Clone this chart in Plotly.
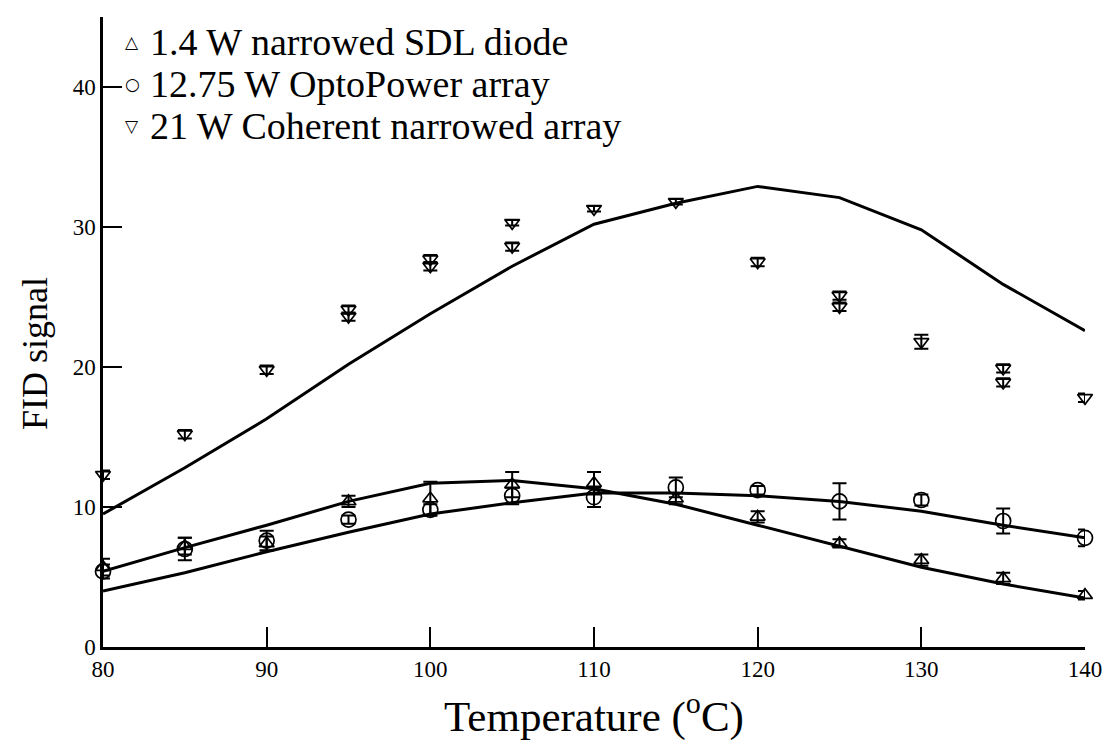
import plotly.graph_objects as go

# ---- data ----
temps = [80, 85, 90, 95, 100, 105, 110, 115, 120, 125, 130, 135, 140]

# 1.4 W narrowed SDL diode (up triangles)
sdl_y = [5.7, 7.2, 7.4, 10.4, 10.6, 11.6, 11.7, 10.6, 9.3, 7.4, 6.2, 4.9, 3.7]
sdl_err = [0.6, 0.6, 0.5, 0.4, 1.2, 0.9, 0.8, 0.4, 0.4, 0.3, 0.4, 0.4, 0.3]
sdl_fit = [5.4, 7.1, 8.7, 10.4, 11.7, 11.9, 11.3, 10.2, 8.7, 7.2, 5.7, 4.5, 3.5]

# 12.75 W OptoPower array (circles)
opto_y = [5.4, 7.0, 7.6, 9.1, 9.8, 10.8, 10.7, 11.4, 11.2, 10.4, 10.5, 9.0, 7.8]
opto_err = [0.5, 0.8, 0.7, 0.3, 0.4, 0.6, 0.7, 0.7, 0.3, 1.3, 0.4, 0.9, 0.6]
opto_fit = [4.0, 5.3, 6.8, 8.2, 9.5, 10.3, 11.0, 11.0, 10.8, 10.4, 9.7, 8.7, 7.8]

# 21 W Coherent narrowed array (down triangles), repeated runs at some temperatures
coh_t = [80, 85, 90, 95, 95, 100, 100, 105, 105, 110, 115, 120, 125, 125, 130, 135, 135, 140]
coh_y = [12.3, 15.2, 19.8, 24.1, 23.6, 27.7, 27.2, 30.3, 28.6, 31.3, 31.8, 27.5, 25.1, 24.3, 21.8, 19.9, 18.9, 17.8]
coh_err = [0.3, 0.3, 0.3, 0.3, 0.3, 0.3, 0.3, 0.2, 0.3, 0.2, 0.2, 0.3, 0.3, 0.3, 0.5, 0.3, 0.3, 0.3]
coh_fit = [9.5, 12.8, 16.3, 20.2, 23.8, 27.2, 30.2, 31.7, 32.9, 32.1, 29.8, 25.9, 22.6]

labels = ["1.4 W narrowed SDL diode", "12.75 W OptoPower array", "21 W Coherent narrowed array"]
legend_glyphs = ["\u25B3", "\u25CB", "\u25BD"]
symbols = ["triangle-up-open", "circle-open", "triangle-down-open"]

FONT = "Liberation Serif"
BLACK = "#000000"

W, H = 1103, 754
ML, MR, MT, MB = 103, 18, 17, 107
PW, PH = W - ML - MR, H - MT - MB


def px_x(px):
    return (px - ML) / PW


def px_y(py):
    return (H - MB - py) / PH


fig = go.Figure()

# fitted curves
for fit in (coh_fit, sdl_fit, opto_fit):
    fig.add_trace(go.Scatter(x=temps, y=fit, mode="lines",
                             line=dict(color=BLACK, width=3),
                             showlegend=False, hoverinfo="skip", cliponaxis=False))

# data with error bars
datasets = [(temps, sdl_y, sdl_err, symbols[0], 13, labels[0]),
            (temps, opto_y, opto_err, symbols[1], 15, labels[1]),
            (coh_t, coh_y, coh_err, symbols[2], 13, labels[2])]
for xs, ys, es, sym, sz, lab in datasets:
    fig.add_trace(go.Scatter(
        x=xs, y=ys, mode="markers", name=lab,
        marker=dict(symbol=sym, size=sz, color=BLACK, line=dict(color=BLACK, width=1.7)),
        error_y=dict(type="data", array=es, visible=True, color=BLACK, thickness=2, width=7),
        showlegend=False, cliponaxis=False))

# legend drawn as text (symbol glyph + label)
legend_rows_px = [42, 84, 126]
for glyph, lab, ry in zip(legend_glyphs, labels, legend_rows_px):
    fig.add_annotation(xref="paper", yref="paper", x=px_x(132), y=px_y(ry),
                       text=glyph, showarrow=False, xanchor="center", yanchor="middle",
                       font=dict(family="DejaVu Sans", size=17, color=BLACK))
    fig.add_annotation(xref="paper", yref="paper", x=px_x(148), y=px_y(ry),
                       text=lab, showarrow=False, xanchor="left", yanchor="middle",
                       font=dict(family=FONT, size=38, color=BLACK))

# y axis title
fig.add_annotation(xref="paper", yref="paper", x=px_x(35), y=px_y(354),
                   text="FID signal", showarrow=False, textangle=-90,
                   xanchor="center", yanchor="middle",
                   font=dict(family=FONT, size=36, color=BLACK))

fig.update_layout(
    width=W, height=H,
    margin=dict(l=ML, r=MR, t=MT, b=MB, autoexpand=False),
    paper_bgcolor="white", plot_bgcolor="white",
    font=dict(family=FONT, color=BLACK, size=23),
    showlegend=False,
    xaxis=dict(range=[80, 140], tickmode="array", tickvals=[80, 90, 100, 110, 120, 130, 140],
               ticks="inside", ticklen=20, tickwidth=2, tickcolor=BLACK,
               showline=True, linewidth=2.5, linecolor=BLACK, mirror=False,
               showgrid=False, zeroline=False,
               tickfont=dict(family=FONT, size=23),
               title=dict(text="Temperature (<sup>o</sup>C)", font=dict(family=FONT, size=43), standoff=20),
               automargin=False),
    yaxis=dict(range=[0, 45], tickmode="array", tickvals=[0, 10, 20, 30, 40],
               ticks="inside", ticklen=19, tickwidth=2, tickcolor=BLACK,
               showline=True, linewidth=2.5, linecolor=BLACK, mirror=False,
               showgrid=False, zeroline=False,
               tickfont=dict(family=FONT, size=23),
               automargin=False),
)

fig.write_html("out.html")
